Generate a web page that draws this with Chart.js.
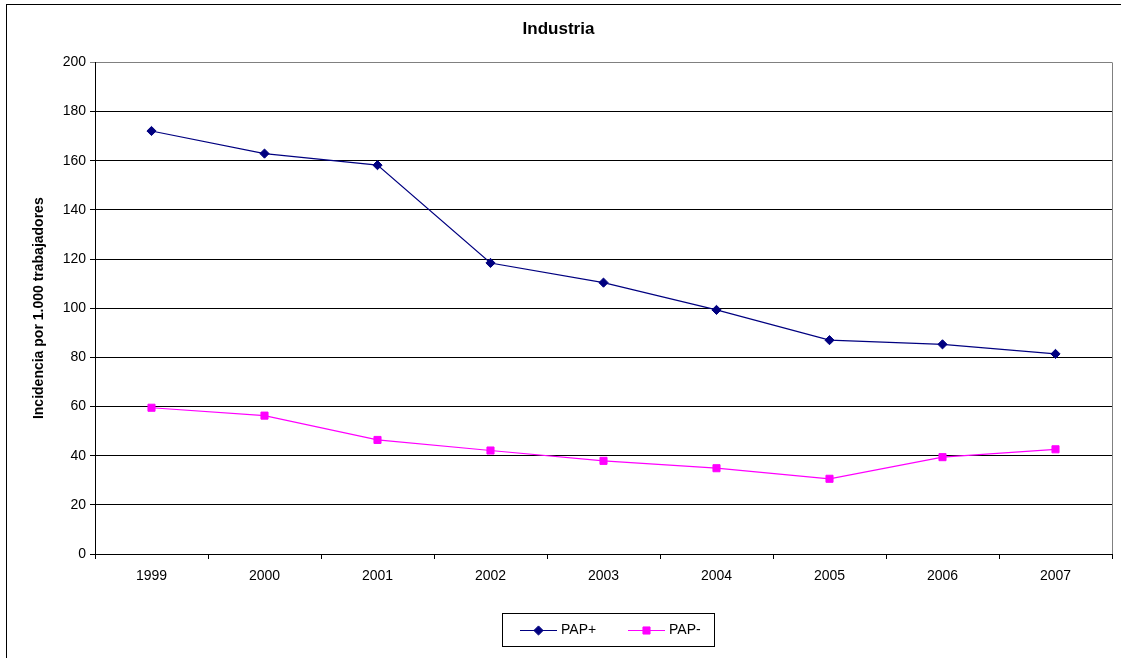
<!DOCTYPE html>
<html>
<head>
<meta charset="utf-8">
<title>Industria</title>
<script src="https://cdn.jsdelivr.net/npm/chart.js@4.4.1/dist/chart.umd.min.js"></script>
<style>
  html, body { margin: 0; padding: 0; background: #fff; overflow: hidden; }
  #wrap { width: 1121px; height: 658px; }
</style>
</head>
<body>
<div id="wrap"><canvas id="c" width="1121" height="658"></canvas></div>
<script>
// Years on the horizontal axis
const years = ['1999', '2000', '2001', '2002', '2003', '2004', '2005', '2006', '2007'];
// Incidence per 1,000 workers
const papPlus  = [172.1, 162.9, 158.2, 118.4, 110.4, 99.3, 87.0, 85.3, 81.4];
const papMinus = [59.5, 56.3, 46.4, 42.1, 37.9, 34.9, 30.6, 39.4, 42.6];
// Value axis range
const yMin = 0, yMax = 200, yStep = 20;

const FONT = '"Liberation Sans", Arial, Helvetica, sans-serif';
Chart.defaults.font.family = FONT;
Chart.defaults.color = '#000';

// White page background plus the frame around the whole chart
const framePlugin = {
  id: 'frame',
  beforeDraw(chart) {
    const ctx = chart.ctx;
    ctx.save();
    ctx.fillStyle = '#fff';
    ctx.fillRect(0, 0, chart.width, chart.height);
    ctx.strokeStyle = '#000';
    ctx.lineWidth = 1;
    ctx.strokeRect(6.5, 4.5, chart.width + 20, chart.height + 20);
    ctx.restore();
  },
  afterDatasetsDraw(chart) {
    // grey right edge of the plot area
    const a = chart.chartArea;
    const ctx = chart.ctx;
    ctx.save();
    ctx.strokeStyle = '#808080';
    ctx.lineWidth = 1;
    ctx.beginPath();
    ctx.moveTo(Math.round(a.right) + 0.5, a.top);
    ctx.lineTo(Math.round(a.right) + 0.5, a.bottom);
    ctx.stroke();
    ctx.restore();
  }
};

// Boxed legend below the axis: line sample with marker, then the label
const boxLegend = {
  id: 'boxLegend',
  afterDraw(chart) {
    const ctx = chart.ctx;
    const box = { x: 502, y: 613, w: 212, h: 33 };
    ctx.save();
    ctx.strokeStyle = '#000';
    ctx.lineWidth = 1;
    ctx.strokeRect(box.x + 0.5, box.y + 0.5, box.w, box.h);
    ctx.font = '14px ' + FONT;
    ctx.textBaseline = 'middle';
    ctx.textAlign = 'left';
    const cy = box.y + 17;
    chart.data.datasets.forEach((ds, i) => {
      const x = box.x + 18 + i * 108;
      ctx.strokeStyle = ds.borderColor;
      ctx.lineWidth = 1;
      ctx.beginPath();
      ctx.moveTo(x, Math.round(cy) + 0.5);
      ctx.lineTo(x + 37, Math.round(cy) + 0.5);
      ctx.stroke();
      ctx.fillStyle = ds.pointBackgroundColor;
      ctx.strokeStyle = ds.pointBorderColor;
      Chart.helpers.drawPoint(ctx, {
        pointStyle: ds.pointStyle, radius: ds.pointRadius, borderWidth: 1, rotation: 0
      }, x + 18.5, Math.round(cy) + 0.5);
      ctx.fillStyle = '#000';
      ctx.fillText(ds.label, x + 41, cy);
    });
    ctx.restore();
  }
};

new Chart(document.getElementById('c'), {
  type: 'line',
  data: {
    labels: years,
    datasets: [
      {
        label: 'PAP+',
        data: papPlus,
        borderColor: '#000080',
        backgroundColor: '#000080',
        pointBackgroundColor: '#000080',
        pointBorderColor: '#000080',
        pointStyle: 'rectRot',
        pointRadius: 4.6,
        pointBorderWidth: 1,
        borderWidth: 1.2,
        tension: 0,
        fill: false
      },
      {
        label: 'PAP-',
        data: papMinus,
        borderColor: '#FF00FF',
        backgroundColor: '#FF00FF',
        pointBackgroundColor: '#FF00FF',
        pointBorderColor: '#FF00FF',
        pointStyle: 'rect',
        pointRadius: 5,
        pointBorderWidth: 1,
        borderWidth: 1.2,
        tension: 0,
        fill: false
      }
    ]
  },
  options: {
    responsive: false,
    animation: false,
    devicePixelRatio: 1,
    layout: { padding: { left: 5, right: 9, top: 0, bottom: 64 } },
    plugins: {
      legend: { display: false },
      tooltip: { enabled: false },
      title: {
        display: true,
        text: 'Industria',
        color: '#000',
        font: { size: 17, weight: 'bold', family: FONT },
        padding: { top: 19, bottom: 23 }
      }
    },
    scales: {
      x: {
        type: 'category',
        offset: true,
        grid: {
          offset: true,
          drawOnChartArea: false,
          drawTicks: true,
          tickLength: 5,
          color: '#000',
          lineWidth: 1
        },
        border: { display: true, color: '#000', width: 1 },
        ticks: {
          color: '#000',
          font: { size: 14, family: FONT },
          padding: 9,
          maxRotation: 0,
          autoSkip: false
        },
        afterFit(scale) { scale.height = 40; }
      },
      y: {
        min: yMin,
        max: yMax,
        grid: {
          color: (c) => (c.tick && c.tick.value === yMax ? '#808080' : '#000'),
          lineWidth: 1,
          drawTicks: true,
          tickLength: 5
        },
        border: { display: true, color: '#000', width: 1 },
        ticks: {
          stepSize: yStep,
          color: '#000',
          font: { size: 14, family: FONT },
          padding: 4
        },
        title: {
          display: true,
          text: 'Incidencia por 1.000 trabajadores',
          color: '#000',
          font: { size: 14, weight: 'bold', family: FONT },
          padding: { top: 26, bottom: 0 }
        },
        afterFit(scale) { scale.width = 90; }
      }
    }
  },
  plugins: [framePlugin, boxLegend]
});
</script>
</body>
</html>
